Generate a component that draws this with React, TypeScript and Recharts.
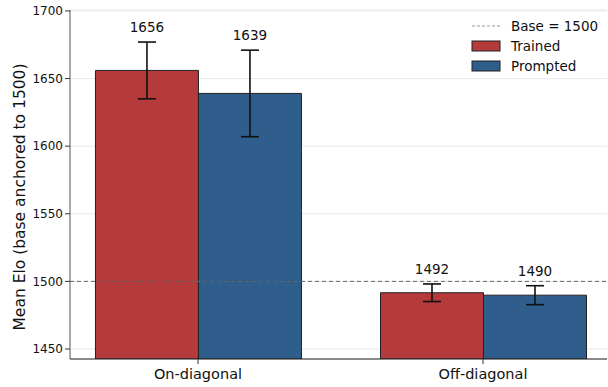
import React from 'react';
import {
  BarChart, Bar, XAxis, YAxis, CartesianGrid, ErrorBar, ReferenceLine, LabelList,
} from 'recharts';

const categories = ['On-diagonal', 'Off-diagonal'];
const trainedMean = [1656, 1491.6];
const trainedErr = [21, 6.5];
const promptedMean = [1639, 1489.8];
const promptedErr = [32, 7];
const yTicks = [1450, 1500, 1550, 1600, 1650, 1700];
const baseElo = 1500;

const W = 608;
const H = 387;
const X_AXIS_H = 28;
const MARGIN = { top: 10, right: 1, bottom: 0, left: 0 };
const Y_DOMAIN: [number, number] = [1442.6, 1700.7];
const X_DOMAIN: [number, number] = [-0.449, 1.435];
const FONT = 'DejaVu Sans, sans-serif';
const RED = '#b53a3c';
const BLUE = '#2f5e8c';

const data = categories.map((name, i) => ({
  x: i,
  name,
  trained: trainedMean[i],
  tErr: trainedErr[i],
  prompted: promptedMean[i],
  pErr: promptedErr[i],
}));

const plotH = H - MARGIN.top - MARGIN.bottom - X_AXIS_H;
const pxPerUnit = plotH / (Y_DOMAIN[1] - Y_DOMAIN[0]);

// value label sits above the error bar cap
const makeLabel = (errs: number[]) => (props: any) => {
  const { x, y, width, value, index } = props;
  const top = Number(y) - errs[index] * pxPerUnit;
  return (
    <text x={Number(x) + Number(width) / 2} y={top - 10} textAnchor="middle"
      fontSize={13.5} fontFamily={FONT} fill="#111">
      {Math.round(Number(value))}
    </text>
  );
};

const LegendBox = () => (
  <svg width={140} height={60} style={{ fontFamily: FONT, display: 'block' }}>
    <line x1={2} x2={30} y1={8} y2={8} stroke="#999" strokeDasharray="3 2" strokeWidth={1} />
    <text x={41} y={8} dominantBaseline="central" fontSize={13.5} fill="#111">Base = {baseElo}</text>
    <rect x={2} y={23} width={28} height={10} fill={RED} stroke="#222" strokeWidth={1} />
    <text x={41} y={28} dominantBaseline="central" fontSize={13.5} fill="#111">Trained</text>
    <rect x={2} y={43} width={28} height={10} fill={BLUE} stroke="#222" strokeWidth={1} />
    <text x={41} y={48} dominantBaseline="central" fontSize={13.5} fill="#111">Prompted</text>
  </svg>
);

export default function App() {
  return (
    <div style={{ position: 'absolute', left: 0, top: 0, width: W, height: H, background: '#fff' }}>
      <BarChart width={W} height={H} data={data} margin={MARGIN} barGap={0} barSize={103}>
        <CartesianGrid vertical={false} stroke="#e8e8e8" />
        <XAxis
          dataKey="x"
          type="number"
          domain={X_DOMAIN}
          allowDataOverflow
          ticks={[0, 1]}
          height={X_AXIS_H}
          tickFormatter={(v: number) => categories[v] ?? ''}
          tick={{ fontSize: 14.5, fontFamily: FONT, fill: '#111' }}
          tickLine={{ stroke: '#333' }}
          axisLine={{ stroke: '#222' }}
          tickSize={5}
          tickMargin={5}
        />
        <YAxis
          type="number"
          domain={Y_DOMAIN}
          allowDataOverflow
          ticks={yTicks}
          width={70}
          tick={{ fontSize: 12, fontFamily: FONT, fill: '#111' }}
          tickLine={{ stroke: '#333' }}
          axisLine={{ stroke: '#555' }}
          tickSize={5}
          label={{
            content: () => {
              const cy = 197;
              return (
                <text x={20} y={cy} transform={`rotate(-90 20 ${cy})`} textAnchor="middle"
                  dominantBaseline="central" fontSize={15.5} fontFamily={FONT} fill="#111">
                  Mean Elo (base anchored to 1500)
                </text>
              );
            },
          }}
        />
        <Bar dataKey="trained" fill={RED} stroke="#222" strokeWidth={1} isAnimationActive={false}>
          <ErrorBar dataKey="tErr" width={9} strokeWidth={1.6} stroke="#111" direction="y" />
          <LabelList dataKey="trained" content={makeLabel(trainedErr)} />
        </Bar>
        <Bar dataKey="prompted" fill={BLUE} stroke="#222" strokeWidth={1} isAnimationActive={false}>
          <ErrorBar dataKey="pErr" width={9} strokeWidth={1.6} stroke="#111" direction="y" />
          <LabelList dataKey="prompted" content={makeLabel(promptedErr)} />
        </Bar>
        <ReferenceLine y={baseElo} stroke="#666" strokeDasharray="4 3" strokeWidth={1} />
      </BarChart>
      <div style={{ position: 'absolute', left: 470, top: 18 }}>
        <LegendBox />
      </div>
    </div>
  );
}
